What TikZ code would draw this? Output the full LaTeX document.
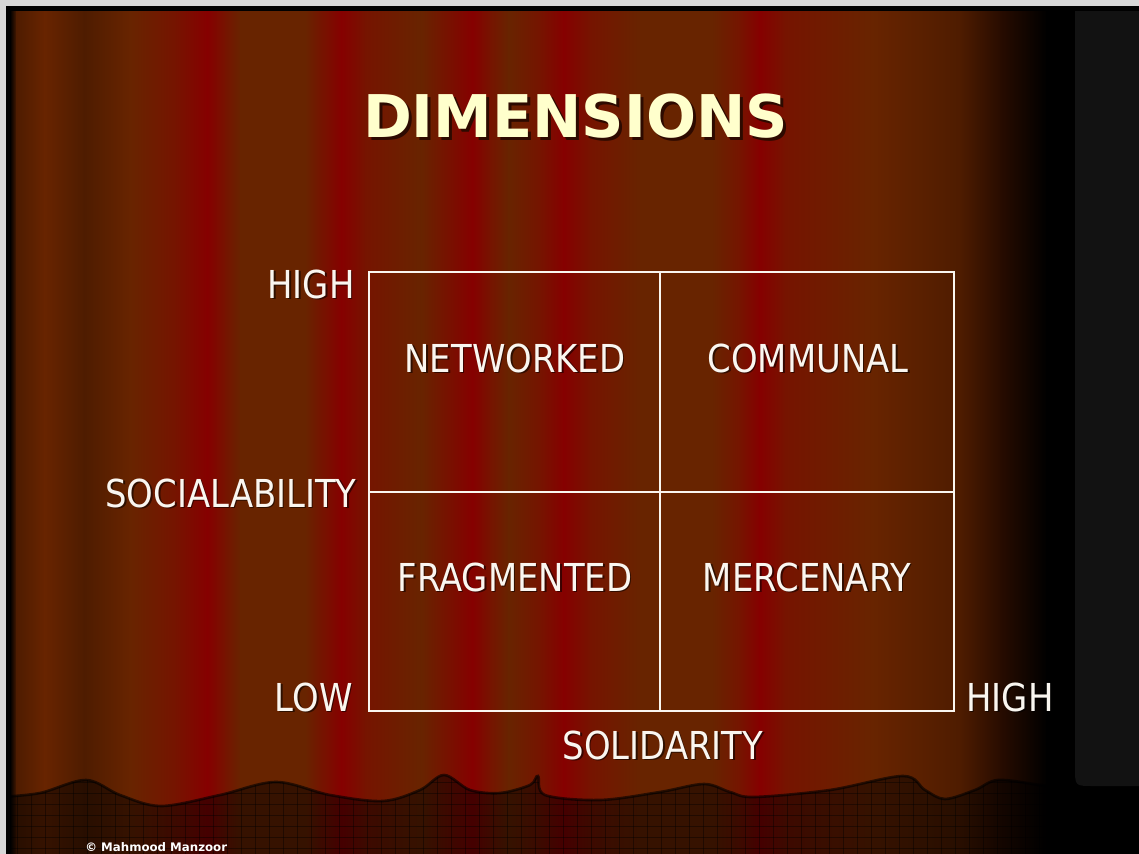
\documentclass[tikz,border=0pt]{standalone}
\usepackage{fontspec}
\setmainfont{DejaVu Sans}[FakeStretch=0.88]
\newfontfamily\titlefont{DejaVu Sans}
\usepackage{tikz}
\usetikzlibrary{calc}

\definecolor{curtdark}{RGB}{78,28,0}
\definecolor{curtbrown}{RGB}{104,36,0}
\definecolor{curtmid}{RGB}{118,20,0}
\definecolor{curtred}{RGB}{134,0,0}
\definecolor{curtfade}{RGB}{40,12,0}
\definecolor{panelgrey}{RGB}{18,18,18}
\definecolor{framegrey}{RGB}{215,215,215}
\definecolor{titleyellow}{RGB}{255,255,204}
\definecolor{titleshadow}{RGB}{45,10,0}
\definecolor{labelwhite}{RGB}{250,246,240}

\tikzset{
  lbl/.style={text=labelwhite, font=\fontsize{21.9}{26}\selectfont, inner sep=0pt},
  lblsh/.style={lbl, text=black, opacity=0.55, xshift=0.9pt, yshift=-0.9pt},
  grid line/.style={draw=labelwhite, line width=1.2pt},
  floor grid/.style={draw=black, opacity=0.4, line width=0.5pt}
}

% label with a soft drop shadow
\newcommand{\shlabel}[4][]{%
  \node[lblsh,#1] (#2-sh) at (#3) {#4};
  \node[lbl,#1] (#2) at (#3) {#4};}

% top edge of the stage floor
\newcommand{\floorwave}{plot[smooth, tension=0.55] coordinates {(0,797) (40,793) (86,780) (120,795) (161,806) (220,795) (276,782) (330,795) (383,801) (420,790) (444,775) (470,790) (500,793) (530,785) (538,776) (545,795) (600,800) (660,792) (704,784) (730,792) (754,797) (830,790) (903,776) (925,790) (945,799) (975,790) (998,780) (1040,785) (1075,790) (1139,790)}}

\begin{document}
\begin{tikzpicture}[x=0.02cm, y=-0.02cm]
\useasboundingbox (0,0) rectangle (1139,854);

% curtain folds
\foreach \x/\c [remember=\x as \xp (initially 0), remember=\c as \cp (initially black)] in {
  10/black, 16/curtdark, 44/curtbrown, 84/curtdark, 130/curtbrown, 175/curtmid,
  207/curtred, 225/curtmid, 240/curtbrown, 305/curtbrown, 341/curtred, 365/curtmid,
  421/curtbrown, 472/curtred, 490/curtmid, 508/curtbrown, 540/curtmid, 563/curtred,
  590/curtmid, 640/curtbrown, 712/curtbrown, 740/curtmid, 759/curtred, 785/curtmid,
  872/curtbrown, 960/curtdark, 1000/curtfade, 1046/black, 1139/black}
  \shade[left color=\cp, right color=\c] (\xp,0) rectangle (\x+1,854);

% side panel
\fill[panelgrey] (1139,11) -- (1075,11) -- (1075,768) .. controls (1075,786) .. (1093,786) -- (1139,786) -- cycle;

% stage floor
\begin{scope}
  \clip \floorwave -- (1139,854) -- (0,854) -- cycle;
  \fill[black, opacity=0.48] (0,760) rectangle (1139,854);
  \foreach \gx in {3,17,...,1139}
    \draw[floor grid] (\gx,760) -- (\gx,854);
  \foreach \gy in {771,782,...,854}
    \draw[floor grid] (0,\gy) -- (1139,\gy);
\end{scope}
\draw[black, opacity=0.6, line width=1.5pt] \floorwave;

% frame
\fill[framegrey] (0,0) rectangle (1139,6);
\fill[framegrey] (0,0) rectangle (6,854);
\fill[black] (6,6) rectangle (1139,11);
\fill[black] (6,6) rectangle (10,854);

\node[anchor=base west, inner sep=0pt, text=white, font=\titlefont\fontsize{6.7}{8}\selectfont\bfseries] (copy) at (85,851) {© Mahmood Manzoor};

% title
\node[inner sep=0pt, text=titleshadow, font=\titlefont\fontsize{33.5}{40}\selectfont\bfseries] (title-sh) at (578.5,119.5) {DIMENSIONS};
\node[inner sep=0pt, text=titleyellow, font=\titlefont\fontsize{33.5}{40}\selectfont\bfseries] (title) at (575.5,116.5) {DIMENSIONS};

% quadrant grid
\coordinate (nw) at (369,272);
\coordinate (se) at (954,711);
\coordinate (mt) at (660,272);
\coordinate (mb) at (660,711);
\coordinate (ml) at (369,492);
\coordinate (mr) at (954,492);
\draw[grid line] (nw) rectangle (se);
\draw[grid line] (mt) -- (mb);
\draw[grid line] (ml) -- (mr);

% axis labels
\shlabel[anchor=east]{highy}{355,284}{HIGH}
\shlabel[anchor=east]{social}{357,493}{SOCIALABILITY}
\shlabel[anchor=east]{lowy}{353,697}{LOW}
\shlabel[anchor=west]{highx}{966,697}{HIGH}
\shlabel{solid}{663,745}{SOLIDARITY}

% quadrants
\shlabel{networked}{515,358}{NETWORKED}
\shlabel{communal}{808,358}{COMMUNAL}
\shlabel{fragmented}{515,577}{FRAGMENTED}
\shlabel{mercenary}{807,577}{MERCENARY}
\end{tikzpicture}
\end{document}
